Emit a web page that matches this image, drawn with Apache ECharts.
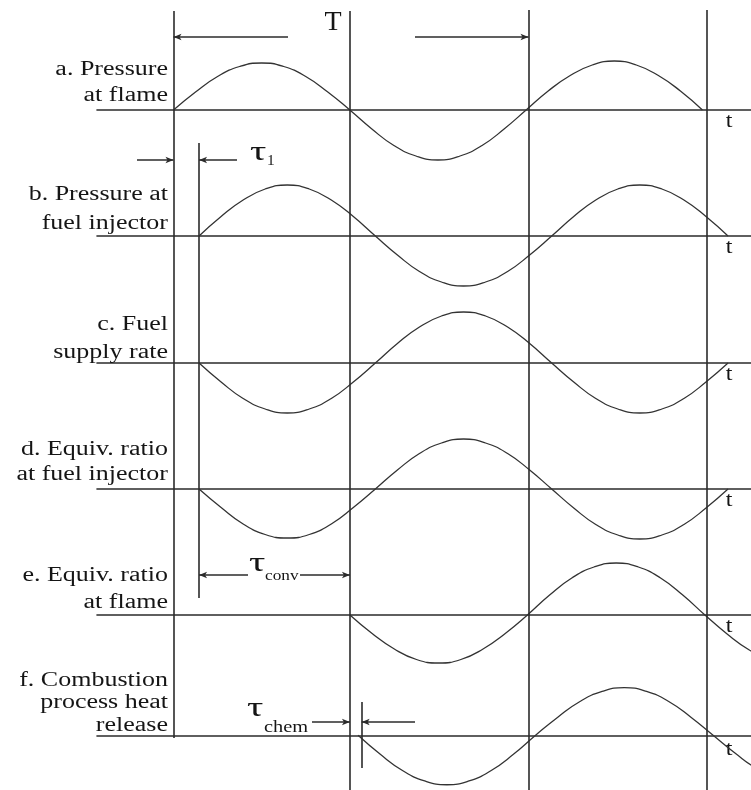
<!DOCTYPE html>
<html>
<head>
<meta charset="utf-8">
<script src="https://cdn.jsdelivr.net/npm/echarts@6/dist/echarts.min.js"></script>
<style>
  html, body { margin: 0; padding: 0; background: #ffffff; }
  #chart { width: 751px; height: 790px; }
</style>
</head>
<body>
<div id="chart"></div>
<script>
// Time axis is measured in periods T: the flame pressure crosses zero going up at t = 0.
// Each wave is sampled at sixteen points per period, amplitude normalised to 1.

const pressureAtFlame = [0, 0.36, 0.67, 0.87, 0.94, 0.87, 0.67, 0.36, 0, -0.38, -0.71, -0.92, -1.0, -0.92, -0.71, -0.38, 0, 0.38, 0.69, 0.9, 0.98, 0.9, 0.69, 0.38, 0];
const pressureAtInjector = [0, 0.39, 0.72, 0.94, 1.02, 0.94, 0.72, 0.39, 0, -0.38, -0.71, -0.92, -1.0, -0.92, -0.71, -0.38, 0, 0.39, 0.72, 0.94, 1.02, 0.94, 0.72, 0.39, 0];
const fuelSupplyRate = [0, -0.38, -0.71, -0.92, -1.0, -0.92, -0.71, -0.38, 0, 0.39, 0.72, 0.94, 1.02, 0.94, 0.72, 0.39, 0, -0.38, -0.71, -0.92, -1.0, -0.92, -0.71, -0.38, 0];
const equivRatioInjector = [0, -0.37, -0.7, -0.91, -0.98, -0.91, -0.7, -0.37, 0, 0.38, 0.71, 0.92, 1.0, 0.92, 0.71, 0.38, 0, -0.38, -0.71, -0.92, -1.0, -0.92, -0.71, -0.38, 0];
const equivRatioFlame = [0, -0.37, -0.68, -0.89, -0.96, -0.89, -0.68, -0.37, 0, 0.4, 0.74, 0.96, 1.04, 0.96, 0.74, 0.4, 0, -0.38, -0.7, -0.92, -1.0];
const heatRelease = [0, -0.4, -0.74, -0.96, -1.04, -0.96, -0.74, -0.4, 0, 0.38, 0.71, 0.92, 1.0, 0.92, 0.71, 0.38, 0, -0.38, -0.71, -0.92, -1.0];

// first and last sample time of each wave (in periods)
const waveStart = [0, 0.072, 0.072, 0.072, 0.497, 0.52];
const waveEnd = [1.49, 1.562, 1.562, 1.562, 1.747, 1.77];

const rowLabels = [
  ['a. Pressure', 'at flame'],
  ['b. Pressure at', 'fuel injector'],
  ['c. Fuel', 'supply rate'],
  ['d. Equiv. ratio', 'at fuel injector'],
  ['e. Equiv. ratio', 'at flame'],
  ['f. Combustion', 'process heat', 'release']
];

// period boundaries and delay markers (in periods)
const periodLines = [0, 0.497, 1.0, 1.503];
const tau1End = 0.072;      // pressure reaches the injector
const tauConvEnd = 0.497;   // mixture reaches the flame
const tauChemEnd = 0.53;    // heat is released

const waves = [pressureAtFlame, pressureAtInjector, fuelSupplyRate, equivRatioInjector, equivRatioFlame, heatRelease];

// ---------- layout ----------
const W = 751, H = 790;
const GRID_LEFT = 97;
const PX_PER_T = 355;
const T_ZERO_PX = 173.5;
const X_MIN = (GRID_LEFT - T_ZERO_PX) / PX_PER_T;
const X_MAX = (W - T_ZERO_PX) / PX_PER_T;
const baselinePx = [110, 236, 363, 489, 615, 738];
const UNIT_PX = 50;       // pixels per unit amplitude
const Y_LIM = 1.15;       // headroom so peaks are not clipped
const INK = '#2b2b2b';
const SERIF = '"Liberation Serif", "DejaVu Serif", serif';
const tAt = px => (px - T_ZERO_PX) / PX_PER_T;   // layout helper for annotation anchors

const grids = [], xAxes = [], yAxes = [], series = [];

waves.forEach((vals, k) => {
  grids.push({ left: GRID_LEFT, right: 0, top: baselinePx[k] - Y_LIM * UNIT_PX, height: 2 * Y_LIM * UNIT_PX });
  xAxes.push({
    type: 'value', gridIndex: k, min: X_MIN, max: X_MAX,
    axisLine: { show: true, onZero: true, lineStyle: { color: INK, width: 1.6 } },
    axisTick: { show: false }, axisLabel: { show: false }, splitLine: { show: false }
  });
  yAxes.push({
    type: 'value', gridIndex: k, min: -Y_LIM, max: Y_LIM,
    axisLine: { show: false }, axisTick: { show: false }, axisLabel: { show: false }, splitLine: { show: false }
  });
  const step = (waveEnd[k] - waveStart[k]) / (vals.length - 1);
  series.push({
    type: 'line', xAxisIndex: k, yAxisIndex: k,
    data: vals.map((v, i) => [waveStart[k] + i * step, v]),
    smooth: true, symbol: 'none', clip: true,
    lineStyle: { color: '#333', width: 1.3 },
    silent: true
  });
});

// overlay grid: x in periods, y in page pixels
const OV = waves.length;
grids.push({ left: GRID_LEFT, right: 0, top: 0, height: H });
xAxes.push({ type: 'value', gridIndex: OV, min: X_MIN, max: X_MAX, show: false });
yAxes.push({ type: 'value', gridIndex: OV, min: 0, max: H, inverse: true, show: false });

// text annotations
const annotations = [];
const labelY = [[70, 96], [195, 224], [325, 353], [450, 475], [576, 603], [681, 703, 726]];
rowLabels.forEach((lines, k) => lines.forEach((txt, j) => {
  annotations.push({ t: tAt(168), y: labelY[k][j], text: txt, size: 20, align: 'right', sx: 1.3 });
}));
baselinePx.forEach(b => annotations.push({ t: tAt(729), y: b + 12, text: 't', size: 20, align: 'center', sx: 1.2 }));
annotations.push({ t: tAt(333), y: 23, text: 'T', size: 28, align: 'center', sx: 1.0 });
annotations.push({ t: tAt(250), y: 153, text: 'τ', size: 28, align: 'left', sx: 1.45 });
annotations.push({ t: tAt(267), y: 161, text: '1', size: 14, align: 'left', sx: 1.1 });
annotations.push({ t: tAt(249), y: 564, text: 'τ', size: 28, align: 'left', sx: 1.45 });
annotations.push({ t: tAt(265), y: 576, text: 'conv', size: 15, align: 'left', sx: 1.15 });
annotations.push({ t: tAt(247), y: 709, text: 'τ', size: 28, align: 'left', sx: 1.45 });
annotations.push({ t: tAt(264), y: 728, text: 'chem', size: 17, align: 'left', sx: 1.2 });

const seg = (t1, y1, t2, y2) => [{ coord: [t1, y1] }, { coord: [t2, y2] }];

series.push({
  type: 'custom', xAxisIndex: OV, yAxisIndex: OV, silent: true, clip: false,
  data: annotations.map(a => [a.t, a.y]),
  renderItem: (params, api) => {
    const a = annotations[params.dataIndex];
    const p = api.coord([a.t, a.y]);
    return {
      type: 'text', x: p[0], y: p[1], scaleX: a.sx,
      style: { text: a.text, fontSize: a.size, fontFamily: SERIF, fill: '#151515', align: a.align, verticalAlign: 'middle' }
    };
  },
  markLine: {
    silent: true, symbol: ['none', 'none'], animation: false,
    label: { show: false },
    lineStyle: { color: INK, width: 1.6, type: 'solid' },
    emphasis: { disabled: true },
    data: [
      seg(periodLines[0], 11, periodLines[0], baselinePx[5]),
      seg(periodLines[1], 11, periodLines[1], H),
      seg(periodLines[2], 10, periodLines[2], H),
      seg(periodLines[3], 10, periodLines[3], H),
      seg(tau1End, 143, tau1End, 598),
      seg(tauChemEnd, 702, tauChemEnd, 768)
    ]
  }
});

// dimension arrows
series.push({
  type: 'line', xAxisIndex: OV, yAxisIndex: OV, data: [], silent: true,
  markLine: {
    silent: true, symbol: ['none', 'arrow'], symbolSize: [5, 8], animation: false,
    label: { show: false },
    lineStyle: { color: INK, width: 1.6, type: 'solid' },
    emphasis: { disabled: true },
    data: [
      seg(tAt(288), 37, periodLines[0], 37),
      seg(tAt(415), 37, periodLines[2], 37),
      seg(tAt(137), 160, periodLines[0], 160),
      seg(tAt(237), 160, tau1End, 160),
      seg(tAt(248), 575, tau1End, 575),
      seg(tAt(300), 575, tauConvEnd, 575),
      seg(tAt(312), 722, tauConvEnd, 722),
      seg(tAt(415), 722, tauChemEnd, 722)
    ]
  }
});

const chart = echarts.init(document.getElementById('chart'), null, { renderer: 'canvas' });
chart.setOption({
  backgroundColor: '#ffffff',
  animation: false,
  grid: grids,
  xAxis: xAxes,
  yAxis: yAxes,
  series: series
});
</script>
</body>
</html>
